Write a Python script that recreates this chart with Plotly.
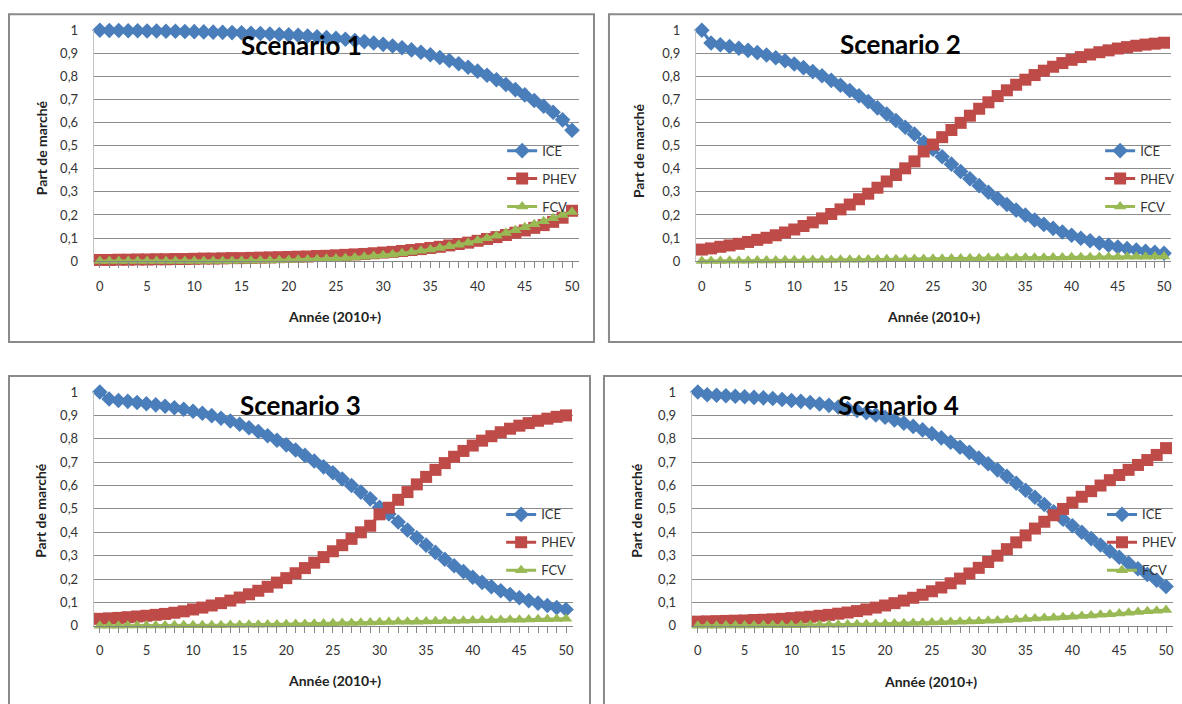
import plotly.graph_objects as go

W, H = 1182, 704

years = list(range(51))

x_tick_vals = [0, 5, 10, 15, 20, 25, 30, 35, 40, 45, 50]
x_tick_text = ["0", "5", "10", "15", "20", "25", "30", "35", "40", "45", "50"]
y_tick_vals = [0, 0.1, 0.2, 0.3, 0.4, 0.5, 0.6, 0.7, 0.8, 0.9, 1.0]
y_tick_text = ["0", "0,1", "0,2", "0,3", "0,4", "0,5", "0,6", "0,7", "0,8", "0,9", "1"]

series_names = ["ICE", "PHEV", "FCV"]
scenario_titles = ["Scenario 1", "Scenario 2", "Scenario 3", "Scenario 4"]
x_title = "Année (2010+)"
y_title = "Part de marché"

# ---------------- Scenario 1 ----------------
ice_s1 = [1.000, 0.999, 0.999, 0.998, 0.998, 0.997, 0.997, 0.996, 0.996, 0.995,
          0.994, 0.993, 0.992, 0.991, 0.990, 0.989, 0.987, 0.986, 0.984, 0.982,
          0.980, 0.978, 0.975, 0.972, 0.969, 0.965, 0.961, 0.956, 0.951, 0.945,
          0.939, 0.932, 0.924, 0.915, 0.905, 0.894, 0.882, 0.869, 0.855, 0.840,
          0.823, 0.805, 0.786, 0.765, 0.743, 0.720, 0.696, 0.671, 0.645, 0.612,
          0.567]
phev_s1 = [0.005, 0.005, 0.006, 0.006, 0.007, 0.007, 0.008, 0.008, 0.009, 0.009,
           0.010, 0.011, 0.011, 0.012, 0.013, 0.013, 0.014, 0.015, 0.016, 0.017,
           0.018, 0.019, 0.020, 0.022, 0.023, 0.025, 0.027, 0.029, 0.031, 0.034,
           0.037, 0.040, 0.044, 0.048, 0.052, 0.057, 0.062, 0.068, 0.074, 0.080,
           0.088, 0.096, 0.104, 0.113, 0.123, 0.133, 0.144, 0.156, 0.170, 0.188,
           0.218]
fcv_s1 = [0.000, 0.000, 0.000, 0.000, 0.000, 0.000, 0.000, 0.000, 0.000, 0.000,
          0.000, 0.001, 0.001, 0.001, 0.001, 0.002, 0.002, 0.003, 0.003, 0.004,
          0.005, 0.006, 0.007, 0.008, 0.010, 0.011, 0.013, 0.016, 0.019, 0.022,
          0.025, 0.029, 0.034, 0.039, 0.045, 0.050, 0.057, 0.064, 0.071, 0.080,
          0.089, 0.099, 0.110, 0.122, 0.134, 0.147, 0.160, 0.173, 0.186, 0.200,
          0.213]

# ---------------- Scenario 2 ----------------
ice_s2 = [1.000, 0.945, 0.937, 0.930, 0.922, 0.913, 0.903, 0.893, 0.881, 0.868,
          0.854, 0.838, 0.821, 0.803, 0.783, 0.762, 0.739, 0.716, 0.691, 0.664,
          0.637, 0.609, 0.580, 0.550, 0.515, 0.485, 0.452, 0.420, 0.388, 0.357,
          0.327, 0.298, 0.271, 0.245, 0.221, 0.199, 0.178, 0.159, 0.142, 0.126,
          0.112, 0.099, 0.088, 0.078, 0.069, 0.061, 0.054, 0.048, 0.043, 0.038,
          0.034]
phev_s2 = [0.050, 0.055, 0.062, 0.068, 0.075, 0.083, 0.092, 0.101, 0.112, 0.124,
           0.137, 0.152, 0.168, 0.185, 0.204, 0.224, 0.245, 0.268, 0.292, 0.318,
           0.345, 0.373, 0.402, 0.432, 0.475, 0.505, 0.537, 0.568, 0.599, 0.630,
           0.660, 0.688, 0.715, 0.740, 0.764, 0.786, 0.806, 0.825, 0.842, 0.858,
           0.872, 0.884, 0.895, 0.905, 0.913, 0.921, 0.927, 0.933, 0.938, 0.942,
           0.946]
fcv_s2 = [0.001, 0.001, 0.001, 0.002, 0.002, 0.002, 0.003, 0.003, 0.003, 0.004,
          0.004, 0.004, 0.005, 0.005, 0.005, 0.006, 0.006, 0.006, 0.007, 0.007,
          0.008, 0.008, 0.008, 0.009, 0.009, 0.010, 0.010, 0.011, 0.011, 0.012,
          0.012, 0.013, 0.013, 0.014, 0.014, 0.015, 0.015, 0.015, 0.016, 0.016,
          0.017, 0.017, 0.017, 0.018, 0.018, 0.018, 0.019, 0.019, 0.019, 0.020,
          0.020]

# ---------------- Scenario 3 ----------------
ice_s3 = [1.000, 0.970, 0.964, 0.960, 0.955, 0.950, 0.945, 0.939, 0.933, 0.926,
          0.918, 0.909, 0.899, 0.888, 0.876, 0.862, 0.847, 0.831, 0.813, 0.794,
          0.774, 0.752, 0.729, 0.705, 0.680, 0.655, 0.628, 0.600, 0.572, 0.543,
          0.507, 0.478, 0.444, 0.410, 0.377, 0.345, 0.314, 0.285, 0.257, 0.232,
          0.208, 0.186, 0.167, 0.150, 0.134, 0.120, 0.108, 0.097, 0.087, 0.078,
          0.070]
phev_s3 = [0.030, 0.032, 0.034, 0.037, 0.040, 0.043, 0.047, 0.051, 0.056, 0.062,
           0.070, 0.078, 0.087, 0.097, 0.108, 0.121, 0.135, 0.150, 0.167, 0.185,
           0.204, 0.225, 0.247, 0.270, 0.294, 0.319, 0.345, 0.372, 0.400, 0.428,
           0.477, 0.505, 0.539, 0.572, 0.605, 0.637, 0.667, 0.696, 0.723, 0.748,
           0.771, 0.792, 0.811, 0.828, 0.843, 0.856, 0.867, 0.877, 0.886, 0.894,
           0.900]
fcv_s3 = [0.000, 0.000, 0.000, 0.001, 0.001, 0.001, 0.001, 0.001, 0.002, 0.002,
          0.002, 0.003, 0.003, 0.003, 0.004, 0.004, 0.005, 0.005, 0.006, 0.006,
          0.007, 0.008, 0.008, 0.009, 0.010, 0.011, 0.012, 0.012, 0.013, 0.014,
          0.015, 0.016, 0.017, 0.018, 0.018, 0.019, 0.020, 0.021, 0.021, 0.022,
          0.023, 0.024, 0.024, 0.025, 0.026, 0.026, 0.027, 0.028, 0.028, 0.029,
          0.030]

# ---------------- Scenario 4 ----------------
ice_s4 = [1.000, 0.988, 0.986, 0.984, 0.982, 0.980, 0.977, 0.975, 0.972, 0.968,
          0.964, 0.960, 0.955, 0.949, 0.943, 0.936, 0.929, 0.921, 0.912, 0.902,
          0.892, 0.880, 0.867, 0.853, 0.838, 0.822, 0.804, 0.785, 0.764, 0.742,
          0.718, 0.693, 0.667, 0.639, 0.610, 0.580, 0.550, 0.519, 0.488, 0.456,
          0.428, 0.400, 0.373, 0.346, 0.319, 0.293, 0.268, 0.244, 0.220, 0.195,
          0.168]
phev_s4 = [0.018, 0.019, 0.020, 0.021, 0.022, 0.023, 0.025, 0.026, 0.028, 0.030,
           0.033, 0.036, 0.039, 0.043, 0.047, 0.052, 0.057, 0.063, 0.070, 0.078,
           0.087, 0.097, 0.108, 0.120, 0.133, 0.148, 0.164, 0.182, 0.202, 0.224,
           0.248, 0.273, 0.300, 0.328, 0.357, 0.387, 0.416, 0.445, 0.473, 0.500,
           0.527, 0.552, 0.576, 0.600, 0.623, 0.645, 0.667, 0.688, 0.709, 0.731,
           0.760]
fcv_s4 = [0.000, 0.000, 0.000, 0.001, 0.001, 0.001, 0.001, 0.002, 0.002, 0.002,
          0.003, 0.003, 0.004, 0.004, 0.005, 0.005, 0.006, 0.007, 0.007, 0.008,
          0.009, 0.010, 0.011, 0.012, 0.013, 0.014, 0.015, 0.016, 0.017, 0.019,
          0.020, 0.022, 0.023, 0.025, 0.027, 0.029, 0.031, 0.033, 0.035, 0.037,
          0.039, 0.042, 0.044, 0.047, 0.050, 0.053, 0.056, 0.059, 0.062, 0.065,
          0.068]

scenarios = [
    (ice_s1, phev_s1, fcv_s1),
    (ice_s2, phev_s2, fcv_s2),
    (ice_s3, phev_s3, fcv_s3),
    (ice_s4, phev_s4, fcv_s4),
]

colors = ["#4A7EBB", "#BE4B48", "#98B954"]
symbols = ["diamond", "square", "triangle-up"]
msizes = [12, 12, 11]

# layout geometry (target pixel positions in the picture)
plot_boxes = [  # x_left, x_right, y_top, y_bottom
    (93.9, 579.6, 30, 261),
    (697.0, 1172.5, 30, 261),
    (93.9, 573.5, 392, 626),
    (692.9, 1174.6, 392, 626),
]
frames = [
    (9, 14, 595, 342),
    (610, 14, 1190, 342),
    (9, 376, 591, 720),
    (605, 376, 1190, 720),
]
title_pos = [(302, 45), (902, 44), (301, 405), (900, 405)]
xtitle_pos = [(335, 316), (935, 316), (335, 681), (932, 682)]
ytitle_pos = [(41, 147), (639, 150), (41, 510), (638, 510)]
legend_pos = [(503, 135.5), (1102, 135.5), (502, 499.5), (1104, 499.5)]

FONT = "Lato"

fig = go.Figure()

def px_x(v):
    return v / W

def px_y(v):
    # compensate for the vertical offset/scale observed in the captured page
    return 1 - ((v - 7.7) / 0.978) / H

for i, (ice, phev, fcv) in enumerate(scenarios):
    k = "" if i == 0 else str(i + 1)
    leg = "legend" + k
    for j, vals in enumerate((ice, phev, fcv)):
        fig.add_trace(go.Scatter(
            x=years, y=vals, mode="lines+markers", name=series_names[j],
            xaxis="x" + k, yaxis="y" + k, legend=leg,
            legendgroup=f"g{i}{j}",
            line=dict(color=colors[j], width=3),
            marker=dict(symbol=symbols[j], size=msizes[j], color=colors[j],
                        line=dict(width=0)),
            cliponaxis=False,
        ))

layout = dict(
    width=W, height=H, autosize=False, margin=dict(l=0, r=0, t=0, b=0),
    paper_bgcolor="white", plot_bgcolor="white",
    font=dict(family=FONT, size=13, color="#333333"),
    showlegend=True,
)

annotations = []
shapes = []
for i in range(4):
    k = "" if i == 0 else str(i + 1)
    xl, xr, yt, yb = plot_boxes[i]
    layout["xaxis" + k] = dict(
        domain=[px_x(xl), px_x(xr)], anchor="y" + k,
        range=[-0.65, 50.7], tickvals=x_tick_vals, ticktext=x_tick_text,
        ticks="outside", ticklen=6, tickcolor="#868686", tickwidth=1,
        minor=dict(dtick=1, tick0=0, ticks="outside", ticklen=6,
                   tickcolor="#868686", tickwidth=1, showgrid=False),
        showline=True, linecolor="#868686", linewidth=1,
        showgrid=False, zeroline=False, ticklabelstandoff=7,
        tickfont=dict(family=FONT, size=13, color="#333333"),
    )
    layout["yaxis" + k] = dict(
        domain=[max(0, px_y(yb)), min(1, px_y(yt))], anchor="x" + k,
        range=[0, 1], tickvals=y_tick_vals, ticktext=y_tick_text,
        ticks="", showline=True, linecolor="#c4c4c4", linewidth=1,
        showgrid=True, gridcolor="#8c8c8c", gridwidth=1, zeroline=False,
        ticklabelstandoff=12,
        tickfont=dict(family=FONT, size=13, color="#333333"),
    )
    lx, ly = legend_pos[i]
    layout["legend" + k] = dict(
        x=px_x(lx), y=px_y(ly), xanchor="left", yanchor="top",
        bgcolor="rgba(0,0,0,0)", borderwidth=0, tracegroupgap=8,
        itemwidth=30, font=dict(family=FONT, size=13, color="#333333"),
    )
    tx, ty = title_pos[i]
    annotations.append(dict(
        text="<b>" + scenario_titles[i] + "</b>", x=px_x(tx), y=px_y(ty),
        xref="paper", yref="paper", showarrow=False,
        xanchor="center", yanchor="middle",
        font=dict(family=FONT, size=26, color="#000000"),
    ))
    ax, ay = xtitle_pos[i]
    annotations.append(dict(
        text="<b>" + x_title + "</b>", x=px_x(ax), y=px_y(ay),
        xref="paper", yref="paper", showarrow=False,
        xanchor="center", yanchor="middle",
        font=dict(family=FONT, size=14, color="#222222"),
    ))
    yx, yy = ytitle_pos[i]
    annotations.append(dict(
        text="<b>" + y_title + "</b>", x=px_x(yx), y=px_y(yy),
        xref="paper", yref="paper", showarrow=False, textangle=-90,
        xanchor="center", yanchor="middle",
        font=dict(family=FONT, size=14, color="#222222"),
    ))
    fx0, fy0, fx1, fy1 = frames[i]
    shapes.append(dict(
        type="rect", xref="paper", yref="paper",
        x0=px_x(fx0), x1=px_x(fx1), y0=px_y(fy1), y1=px_y(fy0),
        line=dict(color="#8a8a8a", width=2), fillcolor="rgba(0,0,0,0)",
        layer="below",
    ))

layout["annotations"] = annotations
layout["shapes"] = shapes
fig.update_layout(**layout)

post = (
    "document.documentElement.style.margin='0px';"
    "document.documentElement.style.overflow='hidden';"
    "document.body.style.margin='0px';"
    "document.body.style.padding='0px';"
    "document.body.style.overflow='hidden';"
    "var d=document.getElementById('{plot_id}');"
    "d.style.position='absolute';d.style.left='0px';d.style.top='0px';"
)

fig.write_html(
    "out.html",
    config={"displayModeBar": False, "responsive": False},
    post_script=post,
)
